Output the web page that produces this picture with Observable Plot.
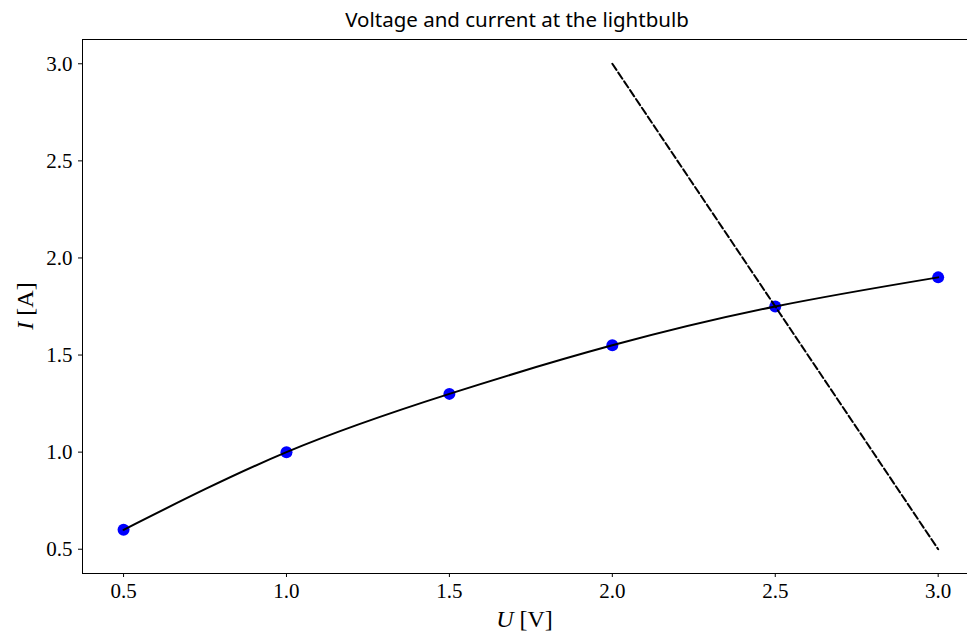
<!DOCTYPE html>
<html>
<head>
<meta charset="utf-8">
<script src="https://cdn.jsdelivr.net/npm/d3@7"></script>
<script src="https://cdn.jsdelivr.net/npm/@observablehq/plot@0.6"></script>
<style>
  html, body { margin: 0; padding: 0; background: #fff; }
  #title { height: 30px; width: 967px; position: relative; }
  #title span { position: absolute; left: 517px; top: 5px; transform: translateX(-50%);
    font-family: "Noto Sans", sans-serif; font-size: 20.5px; color: #000; white-space: nowrap; }
  svg text { font-family: "Liberation Serif", serif; }
</style>
</head>
<body>
<div id="title"><span>Voltage and current at the lightbulb</span></div>
<div id="chart"></div>
<script>
// Measured points (U in V, I in A)
const voltage = [0.5, 1.0, 1.5, 2.0, 2.5, 3.0];
const current = [0.6, 1.0, 1.3, 1.55, 1.75, 1.9];
// Load line endpoints
const loadU = [2.0, 3.0];
const loadI = [3.0, 0.5];
// Axis ticks and domains
const xTicks = [0.5, 1.0, 1.5, 2.0, 2.5, 3.0];
const yTicks = [0.5, 1.0, 1.5, 2.0, 2.5, 3.0];
const xDomain = [0.374, 3.09];
const yDomain = [0.375, 3.125];

const measured = voltage.map((u, i) => ({U: u, I: current[i]}));
const loadLine = loadU.map((u, i) => ({U: u, I: loadI[i]}));

const plot = Plot.plot({
  width: 967,
  height: 604,
  marginLeft: 82,
  marginRight: 0,
  marginTop: 9,
  marginBottom: 61,
  style: {fontFamily: "Liberation Serif, serif", fontSize: "21px", color: "#000", background: "#fff"},
  x: {domain: xDomain, ticks: xTicks, tickFormat: d3.format(".1f"), tickSize: 4, tickPadding: 6, label: null},
  y: {domain: yDomain, ticks: yTicks, tickFormat: d3.format(".1f"), tickSize: 4, tickPadding: 6, label: null},
  marks: [
    Plot.ruleY([yDomain[1]], {stroke: "#000", strokeWidth: 1}),
    Plot.ruleY([yDomain[0]], {stroke: "#000", strokeWidth: 1}),
    Plot.ruleX([xDomain[0]], {stroke: "#000", strokeWidth: 1}),
    Plot.dot(measured, {x: "U", y: "I", r: 6, fill: "#0000ff", stroke: "none"}),
    Plot.line(measured, {x: "U", y: "I", curve: "natural", stroke: "#000", strokeWidth: 2}),
    Plot.line(loadLine, {x: "U", y: "I", stroke: "#000", strokeWidth: 2, strokeDasharray: "7.4,3.2"})
  ]
});
document.getElementById("chart").appendChild(plot);

// Axis labels with italic variable names
const svg = d3.select(plot);
const xr = plot.scale("x").range, yr = plot.scale("y").range;
const xl = svg.append("text")
  .attr("x", (xr[0] + xr[1]) / 2 - 0)
  .attr("y", 597)
  .attr("text-anchor", "middle")
  .style("font-family", "Liberation Serif, serif")
  .style("font-size", "24px");
xl.append("tspan").style("font-style", "italic").text("U");
xl.append("tspan").text(" [V]");
const yl = svg.append("text")
  .attr("transform", `translate(33,${(yr[0] + yr[1]) / 2}) rotate(-90)`)
  .attr("text-anchor", "middle")
  .style("font-family", "Liberation Serif, serif")
  .style("font-size", "24px");
yl.append("tspan").style("font-style", "italic").text("I");
yl.append("tspan").text(" [A]");
</script>
</body>
</html>
